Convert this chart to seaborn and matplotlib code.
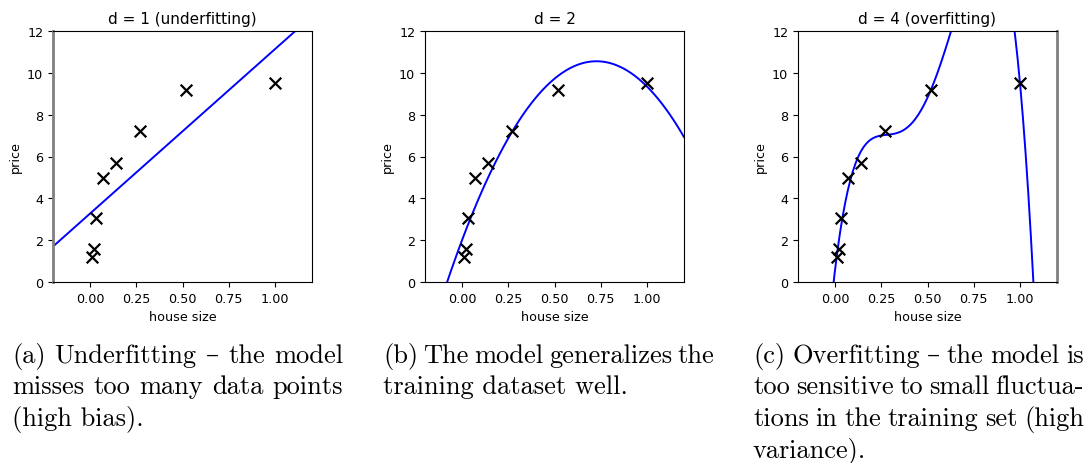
import numpy as np
import pandas as pd
import seaborn as sns
import matplotlib
matplotlib.use("Agg")
import matplotlib.pyplot as plt

# training data
house_size = [0.01, 0.02, 0.035, 0.07, 0.14, 0.27, 0.52, 1.0]
price = [1.2, 1.6, 3.05, 4.95, 5.7, 7.2, 9.2, 9.5]
degrees = [1, 2, 4]
titles = ["d = 1 (underfitting)", "d = 2", "d = 4 (overfitting)"]
captions = [
    "(a) Underfitting \u2013 the model\nmisses too many data points\n(high bias).",
    "(b) The model generalizes the\ntraining dataset well.",
    "(c) Overfitting \u2013 the model is\ntoo sensitive to small fluctua-\ntions in the training set (high\nvariance).",
]
xticks = [0.0, 0.25, 0.5, 0.75, 1.0]
xticklabels = ["0.00", "0.25", "0.50", "0.75", "1.00"]
yticks = [0, 2, 4, 6, 8, 10, 12]

df = pd.DataFrame({"house size": house_size, "price": price})

W, H = 1090, 464
fig = plt.figure(figsize=(W / 100, H / 100), dpi=100)

lefts = [53, 425, 798]
for i, d in enumerate(degrees):
    ax = fig.add_axes([lefts[i] / W, (H - 283) / H, 259 / W, 251 / H])
    ax.set_xlim(-0.2, 1.2)
    sns.regplot(
        data=df, x="house size", y="price", order=d, ci=None, truncate=False,
        marker="x", ax=ax,
        scatter_kws={"color": "black", "s": 70, "linewidths": 1.6,
                     "alpha": 1, "zorder": 3},
        line_kws={"color": "blue", "lw": 1.4},
    )
    ax.set_xlim(-0.2, 1.2)
    ax.set_ylim(0, 12)
    ax.set_xticks(xticks)
    ax.set_xticklabels(xticklabels)
    ax.set_yticks(yticks)
    ax.tick_params(labelsize=9.2, length=3.5, width=0.8)
    ax.set_xlabel("house size", fontsize=9.2)
    ax.set_ylabel("price", fontsize=9.2)
    ax.set_title(titles[i], fontsize=11)
    for s in ax.spines.values():
        s.set_linewidth(0.8)
    if i == 0:
        ax.spines["left"].set_color("gray")
        ax.spines["left"].set_linewidth(2)
    if i == 2:
        ax.spines["right"].set_color("gray")
        ax.spines["right"].set_linewidth(2)

# captions, justified like the LaTeX subcaptions
font = dict(fontsize=19, family=["cmr10", "DejaVu Serif"])
renderer = fig.canvas.get_renderer()
cap_x = [12, 383, 753]
col_w = 331
first_base = 363
line_h = 31.5
for i, cap in enumerate(captions):
    lines = cap.split("\n")
    for j, line in enumerate(lines):
        y = 1 - (first_base + j * line_h) / H
        if j == len(lines) - 1:
            fig.text(cap_x[i] / W, y, line, ha="left", va="baseline", **font)
            continue
        words = line.split(" ")
        arts = [fig.text(0, y, w, ha="left", va="baseline", **font) for w in words]
        widths = [a.get_window_extent(renderer).width for a in arts]
        gap = (col_w - sum(widths)) / (len(words) - 1)
        x = cap_x[i]
        for a, w in zip(arts, widths):
            a.set_x(x / W)
            x += w + gap

fig.savefig("out.png", dpi=100)
